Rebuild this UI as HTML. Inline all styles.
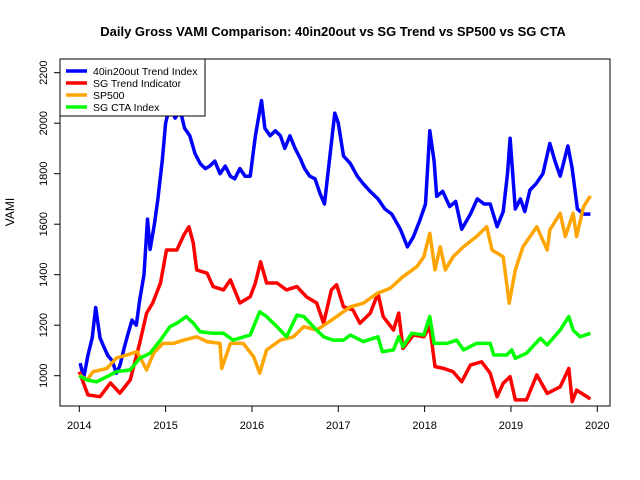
<!DOCTYPE html>
<html><head><meta charset="utf-8"><style>
body{margin:0;background:#fff;}
svg{display:block;font-family:"Liberation Sans",Arial,sans-serif;}
</style></head><body>
<svg id="chart" width="640" height="480">
<rect width="640" height="480" fill="#fff"/>
<text x="333" y="36" text-anchor="middle" font-size="13" font-weight="bold">Daily Gross VAMI Comparison: 40in20out vs SG Trend vs SP500 vs SG CTA</text>
<text transform="translate(14,212) rotate(-90)" text-anchor="middle" font-size="12">VAMI</text>
<g id="series"></g>
<rect x="60" y="59" width="550" height="347" fill="none" stroke="#000" stroke-width="1"/>
<g id="axes"></g>
<g>
<rect x="60" y="59" width="145" height="57" fill="#fff" stroke="#000"/>
<g><line x1="66" y1="71" x2="87" y2="71" stroke="#0000ff" stroke-width="3.5"/><text x="93" y="75" font-size="10.5">40in20out Trend Index</text></g>
<g><line x1="66" y1="83" x2="87" y2="83" stroke="#ff0000" stroke-width="3.5"/><text x="93" y="87" font-size="10.5">SG Trend Indicator</text></g>
<g><line x1="66" y1="95" x2="87" y2="95" stroke="#ffa500" stroke-width="3.5"/><text x="93" y="99" font-size="10.5">SP500</text></g>
<g><line x1="66" y1="107" x2="87" y2="107" stroke="#00ff00" stroke-width="3.5"/><text x="93" y="111" font-size="10.5">SG CTA Index</text></g>
</g>
</svg>
<script>
const baseYear = 2014;
const xTicks = [2014,2015,2016,2017,2018,2019,2020];
const yTicks = [1000,1200,1400,1600,1800,2000,2200];
const blueDates = [0.01,0.05,0.10,0.15,0.19,0.24,0.29,0.33,0.38,0.43,0.47,0.52,0.56,0.61,0.66,0.70,0.75,0.79,0.82,0.87,0.91,0.96,1.00,1.05,1.11,1.17,1.22,1.28,1.34,1.40,1.46,1.51,1.57,1.63,1.69,1.75,1.80,1.86,1.92,1.98,2.04,2.11,2.15,2.21,2.27,2.33,2.38,2.44,2.50,2.56,2.61,2.67,2.73,2.79,2.84,2.88,2.93,2.96,3.00,3.06,3.14,3.22,3.29,3.37,3.46,3.54,3.62,3.72,3.80,3.87,3.95,4.01,4.06,4.11,4.14,4.21,4.29,4.36,4.43,4.53,4.61,4.69,4.76,4.84,4.91,4.96,4.99,5.05,5.11,5.16,5.22,5.29,5.37,5.45,5.51,5.57,5.63,5.66,5.71,5.77,5.84,5.92];
const blueVals = [1050,990,1080,1150,1270,1150,1110,1080,1060,1010,1040,1110,1160,1220,1200,1300,1400,1620,1500,1600,1700,1850,2000,2070,2020,2050,1980,1950,1880,1840,1820,1830,1850,1800,1830,1790,1780,1820,1790,1790,1950,2090,1980,1950,1970,1950,1900,1950,1900,1860,1820,1790,1780,1720,1680,1800,1950,2040,2000,1870,1840,1790,1760,1730,1700,1660,1640,1580,1510,1550,1620,1680,1970,1850,1710,1730,1670,1690,1580,1640,1700,1680,1680,1590,1650,1800,1940,1660,1700,1650,1735,1760,1800,1920,1850,1790,1870,1910,1820,1660,1640,1640];
const redDates = [0.00,0.10,0.24,0.36,0.47,0.59,0.70,0.78,0.85,0.94,1.01,1.13,1.21,1.27,1.32,1.36,1.48,1.55,1.67,1.75,1.86,1.98,2.04,2.10,2.17,2.29,2.40,2.52,2.63,2.75,2.83,2.92,2.98,3.06,3.17,3.25,3.37,3.46,3.52,3.64,3.70,3.75,3.87,3.99,4.06,4.12,4.22,4.33,4.43,4.53,4.66,4.76,4.84,4.91,4.99,5.05,5.18,5.30,5.42,5.57,5.67,5.71,5.76,5.92];
const redVals = [1016,924,917,971,931,983,1129,1248,1288,1367,1498,1498,1557,1590,1525,1419,1406,1353,1340,1380,1288,1313,1367,1451,1367,1367,1340,1353,1313,1288,1208,1340,1360,1273,1260,1208,1247,1326,1234,1181,1248,1108,1161,1154,1194,1036,1029,1016,976,1042,1055,1010,917,970,996,904,904,1003,930,956,1029,897,943,908];
const orangeDates = [0.00,0.09,0.16,0.32,0.43,0.55,0.67,0.78,0.86,0.97,1.09,1.21,1.36,1.48,1.63,1.65,1.75,1.90,2.02,2.09,2.17,2.33,2.48,2.60,2.75,2.87,2.98,3.14,3.29,3.45,3.60,3.75,3.91,3.99,4.06,4.12,4.18,4.24,4.33,4.45,4.60,4.72,4.78,4.91,4.98,5.05,5.14,5.30,5.42,5.45,5.57,5.63,5.72,5.76,5.84,5.92];
const orangeVals = [1003,983,1016,1029,1070,1082,1095,1023,1089,1128,1128,1141,1154,1135,1128,1029,1128,1128,1075,1010,1102,1141,1154,1194,1181,1208,1234,1273,1287,1326,1346,1392,1432,1471,1564,1419,1511,1419,1471,1511,1551,1590,1498,1471,1287,1419,1511,1590,1498,1577,1643,1551,1643,1551,1669,1712];
const greenDates = [0.00,0.09,0.20,0.32,0.43,0.59,0.70,0.82,0.94,1.05,1.13,1.24,1.32,1.40,1.55,1.67,1.78,1.98,2.09,2.17,2.29,2.40,2.52,2.60,2.71,2.83,2.94,3.06,3.14,3.29,3.46,3.51,3.64,3.70,3.75,3.85,3.99,4.06,4.11,4.26,4.37,4.45,4.60,4.76,4.80,4.95,5.01,5.05,5.18,5.34,5.42,5.57,5.67,5.72,5.80,5.92];
const greenVals = [999,983,976,996,1016,1023,1069,1089,1141,1194,1208,1234,1208,1174,1168,1168,1141,1161,1253,1234,1194,1154,1240,1234,1194,1154,1141,1141,1161,1135,1154,1095,1102,1154,1115,1168,1161,1234,1128,1128,1141,1102,1128,1128,1082,1082,1102,1069,1089,1148,1122,1181,1234,1181,1154,1168];

const NS = "http://www.w3.org/2000/svg";
function xScale(year){ return 79.3 + (year - 2014) * 86.33; }
function yScale(v){ return 375.7 - (v - 1000) * 0.2525; }
const seriesG = document.getElementById('series');
const axesG = document.getElementById('axes');

function drawSeries(dates, vals, color, name){
  let d = '';
  for(let i=0;i<dates.length;i++){
    d += (i?'L':'M') + xScale(baseYear + dates[i]).toFixed(1) + ',' + yScale(vals[i]).toFixed(1);
  }
  const p = document.createElementNS(NS,'path');
  p.setAttribute('d', d);
  p.setAttribute('fill','none');
  p.setAttribute('stroke', color);
  p.setAttribute('stroke-width','3.5');
  p.setAttribute('stroke-linejoin','round');
  
  
  seriesG.appendChild(p);
}
drawSeries(blueDates, blueVals, '#0000ff', 'line-40in20out');
drawSeries(redDates, redVals, '#ff0000', 'line-sg-trend');
drawSeries(orangeDates, orangeVals, '#ffa500', 'line-sp500');
drawSeries(greenDates, greenVals, '#00ff00', 'line-sg-cta');

xTicks.forEach(t => {
  const x = xScale(t);
  const l = document.createElementNS(NS,'line');
  l.setAttribute('x1',x); l.setAttribute('x2',x); l.setAttribute('y1',406); l.setAttribute('y2',412);
  l.setAttribute('stroke','#000');
  
  
  axesG.appendChild(l);
  const tx = document.createElementNS(NS,'text');
  tx.setAttribute('x',x); tx.setAttribute('y',429);
  tx.setAttribute('text-anchor','middle'); tx.setAttribute('font-size','11');
  tx.textContent = t;
  
  
  axesG.appendChild(tx);
});
yTicks.forEach(t => {
  const y = yScale(t);
  const l = document.createElementNS(NS,'line');
  l.setAttribute('x1',54); l.setAttribute('x2',60); l.setAttribute('y1',y); l.setAttribute('y2',y);
  l.setAttribute('stroke','#000');
  
  
  axesG.appendChild(l);
  const tx = document.createElementNS(NS,'text');
  tx.setAttribute('transform','translate(47,'+y+') rotate(-90)');
  tx.setAttribute('text-anchor','middle'); tx.setAttribute('font-size','11');
  tx.textContent = t;
  
  
  axesG.appendChild(tx);
});
</script>
</body></html>
